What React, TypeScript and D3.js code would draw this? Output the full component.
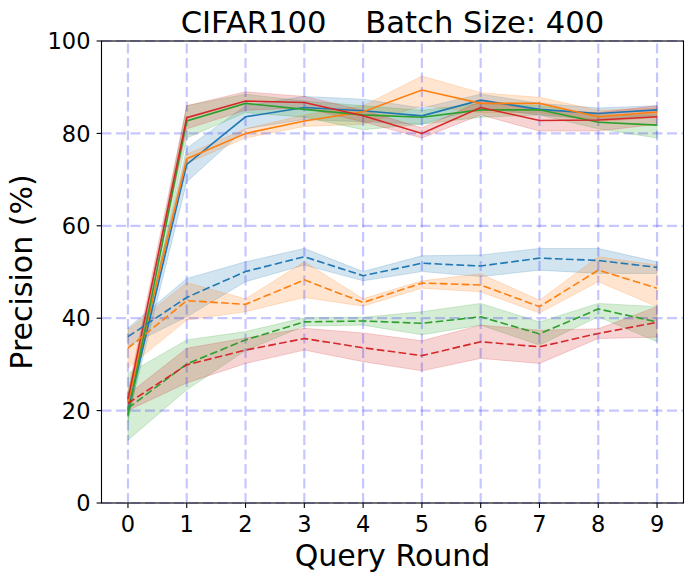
import * as d3 from "d3";

const ROUNDS = [0, 1, 2, 3, 4, 5, 6, 7, 8, 9];
const Y_TICKS = [0, 20, 40, 60, 80, 100];
const COLORS = ["#1f77b4", "#ff7f0e", "#2ca02c", "#d62728"];

// solid lines (mean, lower, upper)
const SOLID_MEAN = [
  [20, 73.3, 83.6, 85.6, 84.9, 83.8, 87.2, 85.2, 84.3, 85.1],
  [22, 74.5, 80.0, 82.7, 84.7, 89.4, 86.5, 86.5, 83.6, 84.6],
  [19, 82.7, 86.5, 85.2, 84.0, 83.5, 85.1, 85.1, 82.4, 81.8],
  [22.5, 83.4, 87.0, 86.7, 83.8, 80.0, 85.6, 82.8, 82.9, 83.6],
];
const SOLID_LO = [
  [18.5, 69.5, 81.0, 83.0, 82.5, 82.0, 85.5, 84.0, 83.0, 84.0],
  [20.5, 73.5, 79.0, 81.5, 82.0, 86.0, 84.5, 84.5, 82.5, 83.5],
  [17.5, 79.0, 84.5, 83.5, 80.8, 82.0, 83.5, 84.0, 81.0, 79.0],
  [21, 81.0, 85.0, 85.5, 82.5, 79.0, 84.0, 80.5, 80.5, 82.0],
];
const SOLID_HI = [
  [21.5, 76.8, 86.0, 88.0, 87.4, 85.5, 88.5, 86.5, 85.5, 86.0],
  [23.5, 75.5, 81.0, 84.0, 86.0, 92.4, 88.8, 87.8, 85.0, 85.5],
  [20.5, 86.0, 88.5, 87.0, 86.0, 85.0, 86.5, 86.0, 84.0, 84.0],
  [24, 86.0, 89.0, 88.0, 85.0, 81.2, 87.0, 85.0, 84.5, 86.0],
];

// dashed lines (mean, lower, upper)
const DASH_MEAN = [
  [36.0, 44.5, 50.1, 53.3, 49.2, 51.9, 51.3, 53.0, 52.5, 51.0],
  [33.5, 43.8, 43.0, 48.3, 43.4, 47.6, 47.2, 42.5, 50.4, 46.5],
  [20.5, 30.1, 35.3, 39.2, 39.4, 38.9, 40.3, 36.6, 42.0, 39.2],
  [21.6, 29.9, 33.1, 35.6, 33.6, 31.9, 34.9, 33.8, 36.7, 39.1],
];
const DASH_LO = [
  [34.0, 40.3, 47.9, 51.5, 48.1, 50.1, 49.0, 50.4, 49.7, 49.7],
  [29.2, 39.6, 41.4, 44.5, 42.6, 46.5, 45.7, 41.1, 47.9, 42.5],
  [13.6, 24.5, 33.0, 38.3, 38.5, 36.4, 38.5, 34.2, 40.3, 34.9],
  [20.0, 26.0, 30.2, 33.1, 30.6, 28.6, 31.3, 30.2, 35.6, 35.9],
];
const DASH_HI = [
  [37.9, 48.6, 52.2, 55.1, 50.1, 53.5, 53.7, 55.1, 55.1, 52.2],
  [37.5, 47.7, 44.2, 52.2, 44.2, 48.1, 49.6, 43.9, 53.3, 51.5],
  [28.0, 35.3, 37.1, 40.1, 40.2, 41.4, 43.2, 39.2, 43.2, 42.5],
  [23.5, 33.5, 35.7, 37.8, 36.8, 35.1, 38.5, 37.4, 37.7, 42.5],
];

const W = 693, H = 581;
const FONT = "DejaVu Sans";

export default function App() {
  const x = d3.scaleLinear().domain([-0.45, 9.45]).range([101.5, 683.5]);
  const y = d3.scaleLinear().domain([0, 100]).range([503, 41]);
  const [x0, x1] = x.range();
  const [yb, yt] = y.range();

  const line = d3.line<number>().x((_, i) => x(ROUNDS[i])).y(d => y(d));
  const band = (lo: number[], hi: number[]) =>
    d3.area<number>().x((_, i) => x(ROUNDS[i])).y0((_, i) => y(lo[i])).y1((_, i) => y(hi[i]))(ROUNDS);

  const series = [
    ...COLORS.map((c, k) => ({ c, mean: SOLID_MEAN[k], lo: SOLID_LO[k], hi: SOLID_HI[k], dash: undefined as string | undefined })),
    ...COLORS.map((c, k) => ({ c, mean: DASH_MEAN[k], lo: DASH_LO[k], hi: DASH_HI[k], dash: "7.7,3.3" })),
  ];

  return (
    <>
      <style>{`body{margin:0}`}</style>
      <svg width={W} height={H} style={{ display: "block", background: "white" }} fontFamily={FONT}>
        {/* bands */}
        {series.map((s, i) => (
          <path key={"b" + i} d={band(s.lo, s.hi) || ""} fill={s.c} fillOpacity={0.2} stroke={s.c} strokeOpacity={0.2} strokeWidth={1} />
        ))}
        {/* grid */}
        <g stroke="#0000ff" strokeOpacity={0.22} strokeWidth={2.2} strokeDasharray="10,4.5">
          {ROUNDS.map(r => <line key={"gx" + r} x1={x(r)} x2={x(r)} y1={yb} y2={yt} />)}
          {Y_TICKS.map(t => <line key={"gy" + t} x1={x0} x2={x1} y1={y(t)} y2={y(t)} />)}
        </g>
        {/* lines */}
        {series.map((s, i) => (
          <path key={"l" + i} d={line(s.mean) || ""} fill="none" stroke={s.c} strokeWidth={1.6} strokeDasharray={s.dash} />
        ))}
        {/* frame */}
        <rect x={x0} y={yt} width={x1 - x0} height={yb - yt} fill="none" stroke="black" strokeWidth={1.1} />
        {/* y axis */}
        {Y_TICKS.map(t => (
          <g key={"yt" + t}>
            <line x1={x0 - 4.9} x2={x0} y1={y(t)} y2={y(t)} stroke="black" strokeWidth={1.1} />
            <text x={x0 - 11} y={y(t)} dy="0.36em" textAnchor="end" fontSize={22.5}>{t}</text>
          </g>
        ))}
        {/* x axis */}
        {ROUNDS.map(r => (
          <g key={"xt" + r}>
            <line x1={x(r)} x2={x(r)} y1={yb} y2={yb + 4.9} stroke="black" strokeWidth={1.1} />
            <text x={x(r)} y={531.5} textAnchor="middle" fontSize={22.5}>{r}</text>
          </g>
        ))}
        <text x={(x0 + x1) / 2} y={566} textAnchor="middle" fontSize={30}>Query Round</text>
        <text transform={`translate(32.3,${(yb + yt) / 2}) rotate(-90)`} textAnchor="middle" fontSize={30}>Precision (%)</text>
        <text x={(x0 + x1) / 2} y={33} textAnchor="middle" fontSize={30.6} style={{ whiteSpace: "pre" }}>{"CIFAR100    Batch Size: 400"}</text>
      </svg>
    </>
  );
}
